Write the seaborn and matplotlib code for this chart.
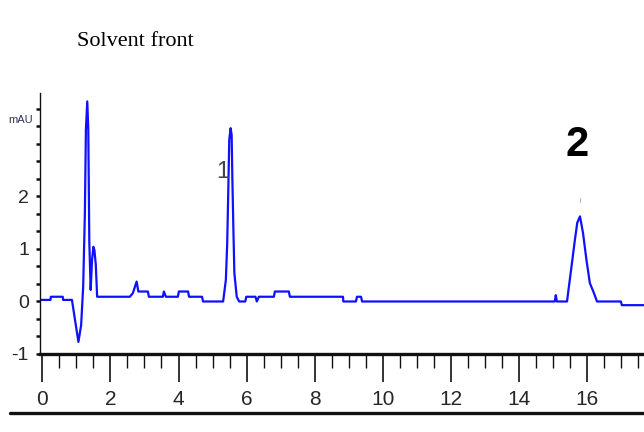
import matplotlib
matplotlib.use("Agg")
import matplotlib.pyplot as plt
import seaborn as sns
import pandas as pd
import numpy as np
from matplotlib.lines import Line2D

# retention time (min) and signal (mAU)
tempo = [-0.07, 0.24, 0.25, 0.60, 0.61, 0.87, 0.96, 1.06, 1.14, 1.20, 1.25, 1.28, 1.32,
         1.35, 1.38, 1.42, 1.46, 1.50, 1.53, 1.57, 1.61,
         2.57, 2.66, 2.77, 2.82, 3.10, 3.13, 3.54, 3.57, 3.63, 3.98, 4.01, 4.28, 4.31,
         4.69, 4.72, 5.31,
         5.39, 5.43, 5.46, 5.49, 5.53, 5.56, 5.58, 5.61, 5.64, 5.71, 5.78,
         5.96, 5.99, 6.26, 6.30, 6.36, 6.80, 6.83, 7.24, 7.27, 8.83, 8.84, 9.21, 9.24,
         9.36, 9.39, 15.05, 15.08, 15.11, 15.41,
         15.44, 15.54, 15.64, 15.71, 15.79, 15.88, 15.98, 16.08, 16.20, 16.29,
         16.99, 17.02, 17.70]
sinal = [0.03, 0.03, 0.09, 0.09, 0.03, 0.03, -0.35, -0.77, -0.45, 0.28, 1.69, 3.27, 3.81,
         3.27, 1.14, 0.22, 0.79, 1.04, 0.98, 0.70, 0.09,
         0.09, 0.16, 0.38, 0.19, 0.19, 0.09, 0.09, 0.19, 0.09, 0.09, 0.19, 0.19, 0.09,
         0.09, 0.00, 0.00,
         0.41, 1.11, 2.07, 3.08, 3.30, 3.17, 2.38, 1.42, 0.54, 0.09, 0.00,
         0.00, 0.09, 0.09, 0.00, 0.09, 0.09, 0.19, 0.19, 0.09, 0.09, 0.00, 0.00, 0.09,
         0.09, 0.00, 0.00, 0.12, 0.00, 0.00,
         0.16, 0.66, 1.17, 1.50, 1.62, 1.30, 0.79, 0.35, 0.16, 0.00,
         0.00, -0.07, -0.07]

# peak labels
picos = ["1", "2"]
picos_t = [5.31, 15.70]
picos_y = [2.47, 2.98]

xticks = [0, 2, 4, 6, 8, 10, 12, 14, 16]
yticks = [-1, 0, 1, 2]

sns.set_style("white")
plt.rcParams['font.family'] = ['Liberation Sans Narrow', 'Liberation Sans', 'DejaVu Sans']
plt.rcParams['axes.unicode_minus'] = False

df = pd.DataFrame({'Tempo': tempo, 'Sinal': sinal})

fig = plt.figure(figsize=(6.44, 4.32), dpi=100)
ax = fig.add_axes([40 / 644, 1 - 354 / 432, 1 - 40 / 644, (354 - 93) / 432])

sns.lineplot(data=df, x='Tempo', y='Sinal', ax=ax, color='#1010ff', linewidth=1.6,
             estimator=None, sort=False)

ax.set_xlim(-0.068, 17.67)
ax.set_ylim(-1.0, 3.97)
ax.set_xlabel('')
ax.set_ylabel('')

ax.set_xticks(xticks)
ax.set_xticks(np.arange(0, 17.6, 0.5), minor=True)
ax.set_yticks(yticks)
ax.set_yticks(np.arange(-1, 3.9, 1 / 3), minor=True)

for s in ['top', 'right']:
    ax.spines[s].set_visible(False)
ax.spines['bottom'].set_linewidth(2.4)
ax.spines['left'].set_linewidth(1.0)
ax.spines['bottom'].set_color('#111111')
ax.spines['left'].set_color('#111111')

ax.tick_params(axis='x', which='major', direction='out', length=20, width=1.2,
               color='#111111', labelsize=15, pad=6, bottom=True)
ax.tick_params(axis='x', which='minor', direction='out', length=10, width=1.0,
               color='#111111', bottom=True)
ax.tick_params(axis='y', which='both', direction='out', length=3, width=1.8,
               color='#111111', labelsize=14, pad=5, left=True)

ax.text(-0.27, 3.45, 'mAU', fontsize=8, ha='right', va='center', color='#333355',
        clip_on=False)

ax.text(picos_t[0], picos_y[0], picos[0], fontsize=17, ha='center', va='center',
        color='#444444')
ax.text(picos_t[1], picos_y[1], picos[1], fontsize=30, ha='center', va='center',
        color='black', fontweight='bold')
ax.text(15.79, 1.93, '|', fontsize=4, ha='center', va='center', color='#aa6644')

fig.text(135 / 644, 1 - 41 / 432, 'Solvent front', fontsize=16, ha='center', va='center',
         family=['Liberation Serif', 'DejaVu Serif'], color='black')

fig.add_artist(Line2D([10 / 644, 1.0], [1 - 413 / 432, 1 - 413 / 432],
                      transform=fig.transFigure, color='#111111', linewidth=2.4))

fig.savefig('out.png', dpi=100)
